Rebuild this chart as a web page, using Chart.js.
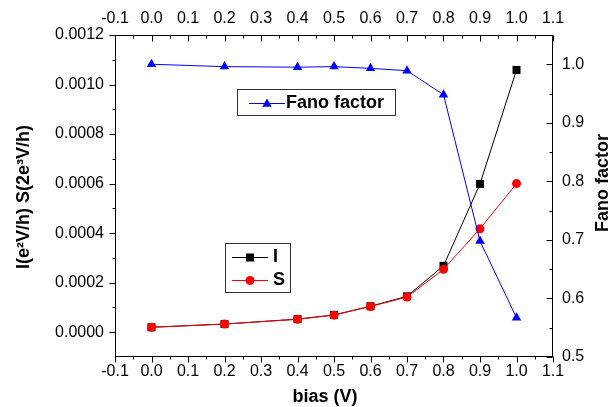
<!DOCTYPE html>
<html><head><meta charset="utf-8">
<script src="https://cdn.jsdelivr.net/npm/chart.js@4"></script>
<style>html,body{margin:0;padding:0;background:#fff;}canvas{display:block;}</style>
</head><body>
<canvas id="c" width="616" height="407"></canvas>
<script>
// ---- data ----
const bias = [0.0, 0.2, 0.4, 0.5, 0.6, 0.7, 0.8, 0.9, 1.0];
const currentI = [0.000020, 0.000033, 0.000053, 0.000070, 0.000105, 0.000145, 0.000268, 0.000599, 0.001059];
const noiseS = [0.000020, 0.000033, 0.000052, 0.000069, 0.000104, 0.000142, 0.000254, 0.000418, 0.000600];
const fano = [1.000, 0.996, 0.995, 0.996, 0.993, 0.989, 0.948, 0.698, 0.567];
// ---- ticks ----
const xTicks = [-0.1, 0.0, 0.1, 0.2, 0.3, 0.4, 0.5, 0.6, 0.7, 0.8, 0.9, 1.0, 1.1];
const xMinor = [-0.05, 0.05, 0.15, 0.25, 0.35, 0.45, 0.55, 0.65, 0.75, 0.85, 0.95, 1.05];
const leftTicks = [0.0000, 0.0002, 0.0004, 0.0006, 0.0008, 0.0010, 0.0012];
const leftMinor = [0.0001, 0.0003, 0.0005, 0.0007, 0.0009, 0.0011];
const rightTicks = [0.5, 0.6, 0.7, 0.8, 0.9, 1.0];
const rightMinor = [0.55, 0.65, 0.75, 0.85, 0.95];

const FAM = "'Liberation Sans', Arial, sans-serif";
const tickFont = {family: FAM, size: 16};

function pts(ys){ return bias.map((b,i)=>({x:b, y:ys[i]})); }

function setTicks(arr){ return s => { s.ticks = arr.map(v=>({value:v})); }; }

const decor = {
  id: 'decor',
  beforeDatasetsDraw(chart){
    const {ctx, chartArea:a, scales} = chart;
    ctx.save();
    ctx.strokeStyle = '#000';
    ctx.lineWidth = 1;
    const L = Math.round(a.left)+0.5, R = Math.round(a.right)-0.5, T = Math.round(a.top)+0.5, B = Math.round(a.bottom)-0.5;
    ctx.strokeRect(L, T, R-L, B-T);
    ctx.beginPath();
    const vx = (sc, arr, y0, y1) => arr.forEach(v=>{ const p = Math.round(sc.getPixelForValue(v))+0.5; ctx.moveTo(p,y0); ctx.lineTo(p,y1); });
    const hy = (sc, arr, x0, x1) => arr.forEach(v=>{ const p = Math.round(sc.getPixelForValue(v))+0.5; ctx.moveTo(x0,p); ctx.lineTo(x1,p); });
    vx(scales.x, xTicks, B, B+6); vx(scales.x, xMinor, B, B+3);
    vx(scales.x2, xTicks, T, T+6); vx(scales.x2, xMinor, T, T+3);
    hy(scales.y, leftTicks, L-6, L); hy(scales.y, leftMinor, L-3, L);
    hy(scales.y2, rightTicks, R-6, R); hy(scales.y2, rightMinor, R-3, R);
    ctx.stroke();
    ctx.restore();
  },
  afterDraw(chart){
    const {ctx} = chart;
    ctx.save();
    ctx.fillStyle = '#000';
    ctx.font = "bold 18px " + FAM;
    ctx.textAlign = 'center'; ctx.textBaseline = 'middle';
    // axis titles
    ctx.fillText('bias (V)', 325, 397);
    ctx.save(); ctx.translate(24, 197); ctx.rotate(-Math.PI/2); ctx.fillText('I(e\u00B2V/h) S(2e\u00B3V/h)', 0, 0); ctx.restore();
    ctx.save(); ctx.translate(603, 183); ctx.rotate(-Math.PI/2); ctx.fillText('Fano factor', 0, 0); ctx.restore();

    // legends
    const box = (x0,y0,x1,y1) => { ctx.fillStyle='#fff'; ctx.fillRect(x0,y0,x1-x0,y1-y0); ctx.strokeStyle='#333'; ctx.lineWidth=1; ctx.strokeRect(x0+0.5,y0+0.5,x1-x0,y1-y0); };
    const seg = (color, x0, x1, y) => { ctx.strokeStyle=color; ctx.lineWidth=1; ctx.beginPath(); ctx.moveTo(x0,y+0.5); ctx.lineTo(x1,y+0.5); ctx.stroke(); };
    ctx.textAlign='left'; ctx.textBaseline='middle';
    // Fano legend
    box(237, 89, 395, 115);
    seg('#0000ff', 249, 285, 103);
    ctx.fillStyle='#0000ff'; ctx.beginPath();
    const r=5.5, cx=267, cy=104;
    ctx.moveTo(cx, cy-r); ctx.lineTo(cx+0.866*r, cy+0.5*r); ctx.lineTo(cx-0.866*r, cy+0.5*r); ctx.closePath(); ctx.fill();
    ctx.fillStyle='#000'; ctx.font="bold 18px "+FAM; ctx.fillText('Fano factor', 286, 103);
    // I / S legend
    box(225, 243, 290, 292);
    seg('#000000', 232, 268, 257);
    ctx.fillStyle='#000'; ctx.fillRect(246, 253.5, 8, 8);
    ctx.fillText('I', 273, 257);
    seg('#ff0000', 232, 268, 280);
    ctx.fillStyle='#ff0000'; ctx.beginPath(); ctx.arc(250, 280.5, 4.5, 0, Math.PI*2); ctx.fill();
    ctx.fillStyle='#000'; ctx.fillText('S', 273, 280);
    ctx.restore();
  }
};

const baseScale = {
  grid: {display:false, drawTicks:false},
  border: {display:false},
};

new Chart(document.getElementById('c'), {
  type: 'line',
  data: {
    datasets: [
      {label:'Fano factor', data: pts(fano), xAxisID:'x', yAxisID:'y2', borderColor:'#0000ff', backgroundColor:'#0000ff', borderWidth:1, pointStyle:'triangle', pointRadius:5.5, pointBorderWidth:0, tension:0, order:0},
      {label:'S', data: pts(noiseS), xAxisID:'x', yAxisID:'y', borderColor:'#ff0000', backgroundColor:'#ff0000', borderWidth:1, pointStyle:'circle', pointRadius:4.5, pointBorderWidth:0, tension:0, order:1},
      {label:'I', data: pts(currentI), xAxisID:'x', yAxisID:'y', borderColor:'#000000', backgroundColor:'#000000', borderWidth:1, pointStyle:'rect', pointRadius:5.66, pointBorderWidth:0, tension:0, order:2}
    ]
  },
  options: {
    responsive:false, animation:false, devicePixelRatio:1,
    layout:{padding:0},
    plugins:{legend:{display:false}, tooltip:{enabled:false}, title:{display:false}},
    scales: {
      x: {...baseScale, type:'linear', position:'bottom', min:-0.1, max:1.1, afterBuildTicks:setTicks(xTicks),
          ticks:{font:tickFont, color:'#000', padding:5, maxRotation:0, autoSkip:false, callback:v=>v.toFixed(1)}, afterFit:s=>{s.height=50;}},
      x2: {...baseScale, type:'linear', position:'top', min:-0.1, max:1.1, afterBuildTicks:setTicks(xTicks),
          ticks:{font:tickFont, color:'#000', padding:7, maxRotation:0, autoSkip:false, callback:v=>v.toFixed(1)}, afterFit:s=>{s.height=35;}},
      y: {...baseScale, type:'linear', position:'left', min:-0.0001, max:0.0012, afterBuildTicks:setTicks(leftTicks),
          ticks:{font:tickFont, color:'#000', padding:11, autoSkip:false, callback:v=>v.toFixed(4)}, afterFit:s=>{s.width=115;}},
      y2: {...baseScale, type:'linear', position:'right', min:0.5, max:1.05, afterBuildTicks:setTicks(rightTicks),
          ticks:{font:tickFont, color:'#000', padding:9, autoSkip:false, callback:v=>v.toFixed(1)}, afterFit:s=>{s.width=63;}}
    }
  },
  plugins:[decor]
});
</script>
</body></html>
